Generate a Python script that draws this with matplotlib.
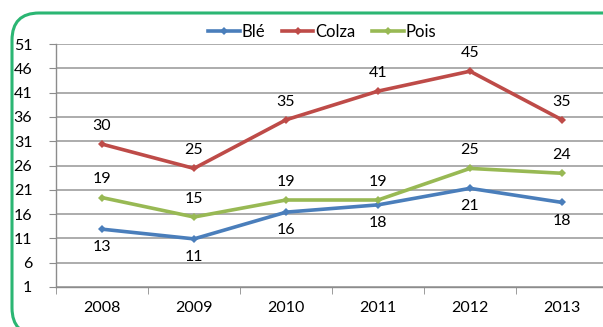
import matplotlib.pyplot as plt
from matplotlib.patches import FancyBboxPatch

plt.rcParams['font.family'] = ['Lato', 'DejaVu Sans']

years = ['2008', '2009', '2010', '2011', '2012', '2013']
ble = [12.9, 10.9, 16.4, 17.9, 21.3, 18.4]
colza = [30.4, 25.4, 35.4, 41.3, 45.4, 35.4]
pois = [19.4, 15.4, 18.9, 18.9, 25.4, 24.4]
yticks = [1, 6, 11, 16, 21, 26, 31, 36, 41, 46, 51]

W, H = 603, 327
fig = plt.figure(figsize=(W / 100, H / 100), dpi=100)

# green rounded frame, partly running off the right and bottom edges
frame = FancyBboxPatch((12 / W, 1 - 335 / H), 620 / W, 322 / H,
                       boxstyle="round,pad=0,rounding_size=0.045",
                       transform=fig.transFigure, fill=False,
                       edgecolor='#2bb673', linewidth=2.2, mutation_aspect=W / H)
fig.patches.append(frame)

ax = fig.add_axes([56 / W, 1 - 287 / H, 552 / W, 243 / H])
x = range(len(years))
series = [
    ('Blé', ble, '#4a7ebb', -1),
    ('Colza', colza, '#be4b48', 1),
    ('Pois', pois, '#98b954', 1),
]
for name, vals, color, side in series:
    ax.plot(x, vals, color=color, lw=2.6, marker='D', ms=4.5,
            markeredgewidth=0, label=name, clip_on=False)
    for xi, v in zip(x, vals):
        off = 8 if side > 0 else -8
        ax.annotate(f'{v:.0f}', (xi, v), xytext=(0, off),
                    textcoords='offset points', ha='center',
                    va='bottom' if side > 0 else 'top', fontsize=11.5)

ax.set_xlim(-0.5, 5.5)
ax.set_ylim(1, 51)
ax.set_yticks(yticks)
ax.set_xticks(list(x))
ax.set_xticklabels(years)
ax.set_xticks([i - 0.5 for i in range(7)], minor=True)
ax.tick_params(axis='x', which='major', length=0, pad=10, labelsize=11.5)
ax.tick_params(axis='x', which='minor', length=5, color='#8c8c8c')
ax.tick_params(axis='y', length=5, color='#8c8c8c', pad=12, labelsize=11.5)
ax.grid(axis='y', color='#a6a6a6', lw=1.3)
ax.set_axisbelow(True)
for s in ['top', 'right']:
    ax.spines[s].set_visible(False)
for s in ['left', 'bottom']:
    ax.spines[s].set_color('#8c8c8c')
    ax.spines[s].set_linewidth(1.0)

ax.legend(loc='lower center', bbox_to_anchor=(0.5 - 10 / 552, 0.99), ncol=3,
          frameon=False, fontsize=12, handlelength=1.9, handletextpad=0.1,
          columnspacing=1.0, borderaxespad=0)

fig.savefig('out.png', dpi=100)
